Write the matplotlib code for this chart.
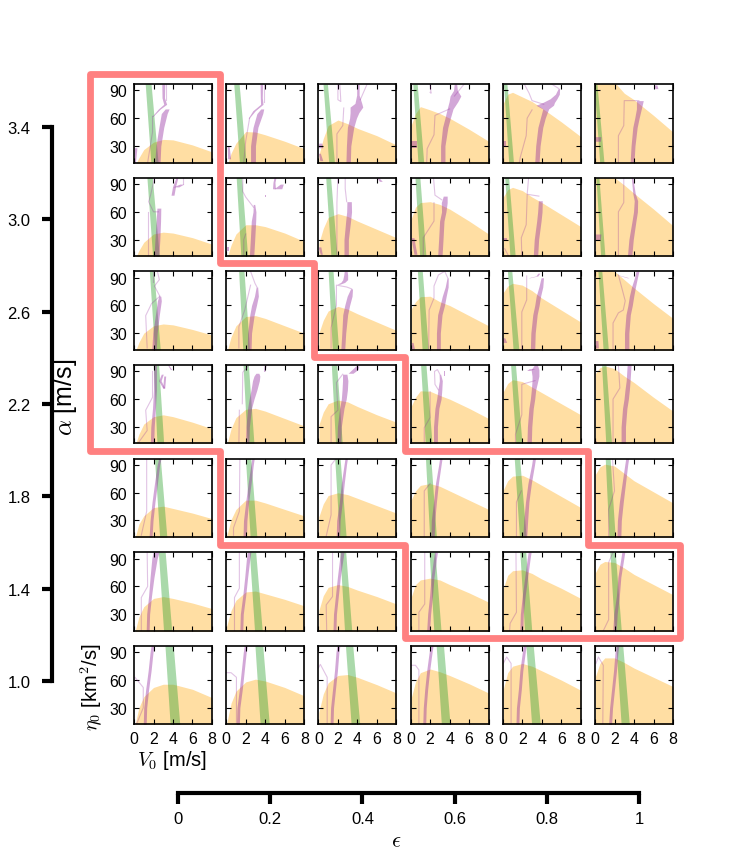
"""Grid of V0 / eta0 parameter panels, one per (alpha, epsilon) pair."""
import matplotlib

matplotlib.use("Agg")
import matplotlib.pyplot as plt

alpha_ticks = [1.0, 1.4, 1.8, 2.2, 2.6, 3.0, 3.4]
epsilon_ticks = [0, 0.2, 0.4, 0.6, 0.8, 1]
epsilon_labels = ["0", "0.2", "0.4", "0.6", "0.8", "1"]
v0_ticks = [0, 2, 4, 6, 8]
eta_ticks = [30, 60, 90]

# orange region: upper edge (eta0) at these V0 values, row 0 = alpha 3.4
orange_v = [0.05, 0.5, 1, 2, 3, 4, 6, 8]
orange_eta = [
    [[8, 17, 26, 34, 37, 36.5, 31, 23.5], [8, 22, 33, 45.5, 45, 42, 35, 27], [20, 38, 52, 58, 54, 49, 41, 31],
     [52, 65, 72.5, 69, 65, 60, 48, 35], [76, 86, 88, 83, 78, 71, 56, 40], [99, 99, 99, 99, 87, 80, 63, 45]],
    [[8, 18, 27, 36, 38, 37, 32, 25], [9, 24, 36, 46, 46, 44, 37, 28], [26, 42, 54, 58, 55, 50, 41, 32],
     [52, 65, 70, 71, 68, 63, 50, 36], [76, 84, 86.5, 83, 76, 70, 57, 44], [99, 99, 99, 97, 89, 80, 63, 45]],
    [[8, 20, 30, 38, 40, 39, 34, 28], [9, 26, 38, 48, 49, 46, 38, 30], [30, 44, 54, 59, 56, 51, 42, 33],
     [56, 64, 69.5, 70, 64, 60, 49, 38], [74, 81, 84, 82, 76, 68, 55, 42], [99, 99, 99, 97, 88, 79, 62, 46]],
    [[8, 22, 33, 41, 43, 41, 35, 28], [10, 28, 40, 49, 50, 47, 39, 31], [32, 46, 55, 59, 57, 52, 43, 35],
     [52, 62, 69, 68.5, 64, 60, 50, 39], [68, 77, 81, 79, 73, 67, 55, 43], [88, 94, 96, 93, 85, 78, 62, 47]],
    [[9, 26, 35, 44, 45.5, 43, 38, 32], [13, 31, 42, 52, 52, 49, 42, 35], [34, 48, 57, 60, 58, 54, 46, 38],
     [52, 62, 68, 70, 67, 62, 52, 42], [63, 73, 78, 79, 74, 68, 56, 44], [80, 88, 91, 89, 81, 73, 61, 49]],
    [[9, 27, 38, 47, 49, 47, 42, 36], [17, 34, 45, 54, 55, 52, 46, 39], [34, 50, 59, 62, 60, 56, 49, 41],
     [48, 62, 67, 69, 67, 62, 53, 43], [58, 72, 77, 78, 74, 68, 58, 47], [75, 84, 87, 86, 80, 73, 62, 51]],
    [[9, 30, 42, 52, 55.5, 55.5, 50, 41], [13, 35, 48, 58, 61, 59, 52, 43], [25, 45, 57, 65, 66, 63, 55, 46],
     [40, 58, 68, 72, 69, 65, 56, 46], [50, 68, 75, 78, 75, 70, 60, 49], [64, 78, 84, 84, 79, 73, 63, 53]],
]

# green band: V0 at the top and bottom of a panel, and its width
green_top = [
    [1.45, 1.05, 0.7, 0.45, 0.25, 0.05],
    [1.6, 1.3, 1.0, 0.7, 0.4, 0.25],
    [1.8, 1.55, 1.25, 0.95, 0.7, 0.5],
    [2.25, 2.0, 1.6, 1.3, 1.05, 0.9],
    [2.4, 2.25, 1.95, 1.8, 1.45, 1.3],
    [2.85, 2.7, 2.5, 2.2, 2.05, 1.8],
    [3.6, 3.35, 3.15, 3.0, 2.75, 2.5],
]
green_bottom = [
    [2.1, 1.7, 1.35, 1.05, 0.85, 0.7],
    [2.25, 1.85, 1.6, 1.25, 1.0, 0.8],
    [2.4, 2.05, 1.75, 1.5, 1.35, 1.1],
    [2.7, 2.5, 2.1, 1.85, 1.65, 1.4],
    [3.0, 2.8, 2.5, 2.3, 2.05, 1.75],
    [3.45, 3.3, 3.05, 2.75, 2.6, 2.35],
    [4.2, 3.95, 3.8, 3.6, 3.4, 3.1],
]
green_width = [
    [0.6, 0.55, 0.45, 0.45, 0.35, 0.3],
    [0.55, 0.55, 0.5, 0.5, 0.4, 0.3],
    [0.45, 0.55, 0.5, 0.5, 0.45, 0.4],
    [0.55, 0.55, 0.55, 0.55, 0.5, 0.45],
    [0.6, 0.55, 0.55, 0.55, 0.55, 0.5],
    [0.7, 0.65, 0.6, 0.6, 0.6, 0.55],
    [0.85, 0.8, 0.75, 0.75, 0.75, 0.7],
]
green_flare = 0.14  # band is a little wider at the bottom

# purple strands: each point is (eta0, V0, width)
purple_strands = {
    (0, 0): [[(12, 2.4, .55), (30, 2.5, .5), (50, 2.8, .5), (65, 3.1, .6), (70, 3.4, .4)],
             [(97, 3.0, .3), (82, 3.0, .25), (75, 3.2, .3), (70, 2.6, .2), (62, 1.9, .1)],
             [(12, .1, .1), (28, .15, .3)]],
    (0, 1): [[(12, 2.75, .5), (30, 2.75, .5), (50, 3.0, .5), (65, 3.45, .6), (70, 3.7, .3)],
             [(97, 3.6, .25), (82, 3.6, .2), (75, 3.65, .25), (68, 2.85, .25), (60, 2.3, .1)],
             [(16, .3, .3), (30, .2, .2)]],
    (0, 2): [[(12, 3.05, .45), (30, 3.1, .45), (50, 3.3, .65), (60, 3.55, .7), (66, 3.7, .9), (72, 3.9, 1.3),
              (76, 4.1, .7), (85, 4.05, .25), (97, 4.05, .25)],
             [(14, .3, .3), (22, .1, .2)], [(28, .2, .5), (33, .2, .3)]],
    (0, 3): [[(12, 3.3, .45), (30, 3.3, .45), (50, 3.55, .55), (60, 3.8, .55), (70, 4.05, .6), (78, 4.4, .9),
              (84, 4.6, 1.1), (90, 4.6, .4), (97, 4.6, .25)],
             [(28, .35, .6), (35, .35, .6)]],
    (0, 4): [[(12, 3.5, .45), (30, 3.6, .45), (50, 3.85, .5), (60, 4.1, .5), (70, 4.4, .6), (74, 4.3, 1.8),
              (77, 4.7, 1.2), (81, 5.2, .7), (86, 5.6, .4), (92, 5.75, .15)],
             [(30, .1, .5), (35, .1, .5)]],
    (0, 5): [[(12, 3.8, .4), (30, 3.9, .4), (50, 4.1, .45), (60, 4.3, .45), (70, 4.5, .5), (79, 4.6, .7)],
             [(92, 6.3, .3), (96, 6.2, .3)], [(35, .3, .5), (40, .3, .6)]],
    (1, 0): [[(12, 2.3, .5), (30, 2.4, .5), (50, 2.5, .45), (64, 2.55, .4)],
             [(78, 3.95, .3), (87, 4.1, .3), (97, 4.4, .2)], [(87, 4.3, .6), (90, 4.9, .4)]],
    (1, 1): [[(12, 2.6, .45), (30, 2.7, .45), (50, 2.8, .45), (60, 2.9, .3), (68, 2.85, .15)],
             [(85, 4.9, .3), (92, 4.9, .2), (97, 5.0, .2)], [(85, 5.3, .8), (90, 5.7, .3)],
             [(76, 4.0, .1), (78, 4.0, .1)], [(18, .2, .2), (22, .2, .2)]],
    (1, 2): [[(12, 2.85, .45), (30, 2.85, .45), (50, 3.05, .5), (60, 3.15, .5), (71, 3.15, .45)],
             [(97, 6.1, .2), (93, 6.4, .3)], [(14, .3, .2), (22, .1, .3)]],
    (1, 3): [[(12, 3.0, .45), (30, 3.1, .45), (50, 3.2, .45), (60, 3.4, .45), (70, 3.45, .6), (77, 3.55, .4)],
             [(14, .5, .3), (25, .3, .3), (32, .2, .3)]],
    (1, 4): [[(12, 3.35, .45), (30, 3.45, .45), (50, 3.7, .45), (60, 3.8, .45), (72, 3.85, .4)],
             [(29, .2, .5), (32, .2, .5)]],
    (1, 5): [[(12, 3.55, .45), (30, 3.7, .45), (50, 4.0, .4), (60, 4.15, .4), (72, 4.2, .35), (80, 4.0, .25),
              (97, 3.8, .15)],
             [(30, .3, .5), (36, .3, .6)]],
    (2, 0): [[(12, 2.05, .45), (30, 2.15, .45), (50, 2.4, .4), (65, 2.6, .4), (70, 2.65, .2)]],
    (2, 1): [[(12, 2.35, .4), (30, 2.4, .4), (50, 2.65, .45), (60, 2.85, .5), (70, 3.1, .4), (80, 3.15, .15)]],
    (2, 2): [[(12, 2.5, .4), (30, 2.6, .4), (50, 2.75, .5), (60, 2.95, .5), (70, 3.2, .5), (78, 3.4, .2)],
             [(83, 2.05, .3), (85, 2.5, .4), (88, 2.75, .5), (93, 2.8, .4), (97, 2.8, .3)]],
    (2, 3): [[(12, 2.85, .4), (30, 2.85, .4), (50, 3.0, .45), (60, 3.25, .45), (70, 3.45, .4), (80, 3.7, .3),
              (90, 3.8, .12)],
             [(13, .25, .3), (20, .15, .2)]],
    (2, 4): [[(12, 3.05, .45), (30, 3.1, .45), (50, 3.3, .45), (60, 3.5, .45), (70, 3.65, .45), (80, 3.9, .4),
              (90, 4.05, .25)],
             [(90, 2.7, .15), (92, 3.5, .2), (95, 3.7, .2)], [(20, .2, .4), (25, .1, .2)]],
    (2, 5): [[(12, 3.25, .45), (30, 3.25, .45), (50, 3.4, .45), (60, 3.6, .45), (70, 3.75, .45), (80, 3.95, .4),
              (90, 4.2, .3), (97, 4.35, .3)],
             [(93, 2.4, .1), (90, 3.4, .2)], [(14, .2, .3), (22, .15, .3)]],
    (3, 0): [[(12, 1.85, .35), (30, 1.9, .35), (50, 2.05, .3), (70, 2.15, .3), (90, 2.15, .3), (97, 2.15, .3)],
             [(72, 3.05, .2), (80, 2.65, .25), (87, 2.9, .2)], [(72, 3.05, .2), (85, 3.15, .2)],
             [(92, 3.8, .15), (97, 3.5, .1)]],
    (3, 1): [[(12, 2.15, .35), (30, 2.2, .35), (50, 2.4, .4), (60, 2.6, .5), (70, 2.85, .6), (80, 3.05, .7),
              (85, 3.15, .6), (88, 3.2, .3)],
             [(90, 3.9, .15), (97, 4.0, .2)]],
    (3, 2): [[(12, 2.1, .4), (30, 2.15, .4), (50, 2.4, .45), (60, 2.6, .5), (70, 2.7, .55), (80, 2.75, .55),
              (87, 2.7, .45)],
             [(88, 3.3, .5), (92, 3.75, .6), (96, 4.0, .3)]],
    (3, 3): [[(12, 2.55, .4), (30, 2.55, .4), (50, 2.7, .4), (60, 2.9, .45), (70, 3.0, .4), (80, 3.1, .3),
              (87, 3.0, .15)],
             [(85, 3.5, .15), (90, 3.5, .15)]],
    (3, 4): [[(12, 2.7, .45), (30, 2.75, .45), (50, 2.9, .45), (60, 3.05, .45), (70, 3.15, .45), (80, 3.3, .6),
              (85, 3.35, .7), (92, 3.3, .8), (97, 3.4, .3)],
             [(91, 2.6, .3), (93, 3.0, .6)]],
    (3, 5): [[(12, 2.9, .45), (30, 2.9, .45), (50, 3.05, .45), (60, 3.2, .45), (70, 3.3, .45), (80, 3.4, .4),
              (97, 3.5, .4)],
             [(12, .05, .2), (15, .05, .15)]],
    (4, 0): [[(12, 1.7, .3), (30, 1.8, .3), (50, 2.0, .3), (70, 2.25, .3), (90, 2.5, .25), (97, 2.65, .25)]],
    (4, 1): [[(12, 1.9, .35), (30, 1.95, .35), (50, 2.15, .3), (70, 2.4, .3), (90, 2.65, .25), (97, 2.75, .25)]],
    (4, 2): [[(12, 2.0, .35), (30, 2.05, .35), (50, 2.3, .3), (70, 2.5, .3), (90, 2.75, .25), (97, 2.85, .25)]],
    (4, 3): [[(12, 2.25, .35), (30, 2.3, .35), (50, 2.5, .3), (70, 2.7, .3), (90, 3.0, .25), (97, 3.1, .25)]],
    (4, 4): [[(12, 2.25, .4), (30, 2.35, .4), (50, 2.5, .35), (70, 2.75, .35), (90, 3.1, .3), (97, 3.2, .3)]],
    (4, 5): [[(12, 2.45, .4), (30, 2.5, .4), (50, 2.7, .4), (70, 2.95, .35), (90, 3.2, .3), (97, 3.3, .3)]],
    (5, 0): [[(12, 1.4, .3), (30, 1.45, .3), (50, 1.65, .3), (70, 1.85, .4), (90, 2.1, .55), (97, 2.25, .6)]],
    (5, 1): [[(12, 1.55, .3), (30, 1.6, .3), (50, 1.85, .3), (70, 2.05, .3), (90, 2.25, .35), (97, 2.35, .35)]],
    (5, 2): [[(12, 1.65, .3), (30, 1.7, .3), (50, 1.9, .3), (70, 2.1, .3), (90, 2.35, .35), (97, 2.45, .35)]],
    (5, 3): [[(12, 1.8, .3), (30, 1.9, .3), (50, 2.1, .3), (70, 2.25, .3), (90, 2.5, .3), (97, 2.6, .3)]],
    (5, 4): [[(12, 1.9, .3), (30, 1.95, .3), (50, 2.15, .3), (70, 2.4, .3), (90, 2.65, .3), (97, 2.75, .3)]],
    (5, 5): [[(12, 2.0, .35), (30, 2.1, .35), (50, 2.35, .3), (70, 2.5, .3), (90, 2.8, .3), (97, 2.9, .3)]],
    (6, 0): [[(12, 1.1, .3), (30, 1.15, .3), (50, 1.35, .3), (70, 1.6, .3), (90, 1.8, .3), (97, 1.9, .3)]],
    (6, 1): [[(12, 1.2, .3), (30, 1.25, .3), (50, 1.5, .3), (70, 1.7, .3), (90, 1.9, .3), (97, 2.0, .3)]],
    (6, 2): [[(12, 1.35, .3), (30, 1.4, .3), (50, 1.6, .3), (70, 1.8, .3), (90, 1.95, .3), (97, 2.05, .3)]],
    (6, 3): [[(12, 1.4, .3), (30, 1.45, .3), (50, 1.6, .3), (70, 1.8, .3), (90, 2.05, .3), (97, 2.15, .3)]],
    (6, 4): [[(12, 1.5, .3), (30, 1.55, .3), (50, 1.75, .3), (70, 1.9, .3), (90, 2.15, .3), (97, 2.25, .3)]],
    (6, 5): [[(12, 1.55, .3), (30, 1.65, .3), (50, 1.85, .3), (70, 2.05, .3), (90, 2.2, .3), (97, 2.3, .3)]],
}

# faint purple contours: each point is (V0, eta0)
purple_thin = {
    (0, 0): [[(1.9, 62), (1.9, 45), (1.4, 12)], [(3.3, 97), (3.3, 80)]],
    (0, 1): [[(2.4, 60), (2.0, 35), (1.8, 12)], [(3.9, 97), (3.9, 78)]],
    (0, 2): [[(2.6, 71), (2.5, 52), (1.9, 43), (1.9, 12)], [(2.0, 97), (2.0, 80), (2.3, 78), (2.2, 97)],
             [(4.3, 80), (5.0, 97)]],
    (0, 3): [[(4.0, 70), (2.5, 63), (2.4, 42), (1.7, 27), (1.65, 12)], [(5.5, 97), (4.5, 84)],
             [(2.0, 97), (2.1, 87), (2.0, 88)]],
    (0, 4): [[(2.2, 97), (2.7, 87), (3.0, 79), (4.2, 75)], [(3.0, 69), (2.5, 60), (2.4, 41), (1.8, 18), (1.7, 12)],
             [(5.75, 92), (5.0, 97)]],
    (0, 5): [[(4.5, 79), (3.0, 79), (2.95, 52), (2.4, 41), (2.4, 12)]],
    (1, 0): [[(2.5, 60), (2.0, 60), (1.5, 71), (1.7, 78), (2.1, 97)], [(1.45, 60), (1.45, 12)], [(5.0, 90), (5.0, 97)]],
    (1, 1): [[(2.8, 65), (2.0, 76), (1.7, 82), (1.7, 97)], [(1.8, 12), (1.8, 30), (2.0, 36)]],
    (1, 2): [[(2.9, 71), (2.75, 85), (2.75, 97)], [(2.0, 97), (1.9, 70), (1.9, 12)]],
    (1, 3): [[(2.35, 97), (2.5, 78), (3.2, 73)], [(2.4, 70), (2.4, 50), (1.3, 32), (1.3, 12)]],
    (1, 4): [[(2.65, 97), (2.5, 79), (3.7, 77)], [(2.5, 78), (2.4, 46), (1.9, 32), (1.95, 12)], [(.2, 20), (.6, 12)]],
    (1, 5): [[(2.95, 97), (2.95, 70), (2.4, 60), (2.4, 12)]],
    (2, 0): [[(2.65, 70), (2.1, 81), (2.6, 88), (2.4, 97)], [(1.9, 97), (1.9, 85)], [(2.65, 70), (1.8, 62), (1.2, 49), (1.35, 14)]],
    (2, 1): [[(3.15, 80), (2.95, 84), (2.5, 97)], [(2.5, 82), (1.9, 55), (1.3, 37), (1.3, 14)]],
    (2, 2): [[(3.4, 78), (2.9, 80), (1.85, 82), (1.85, 60), (1.3, 36), (1.3, 14)]],
    (2, 3): [[(3.8, 90), (3.5, 97), (2.85, 93), (2.4, 81), (2.4, 68), (1.9, 55), (1.85, 12)]],
    (2, 4): [[(2.45, 92), (2.45, 66), (1.95, 53), (1.95, 12)]],
    (2, 5): [[(2.4, 93), (3.1, 65), (2.9, 55), (2.4, 52), (1.85, 41), (1.85, 12)]],
    (3, 0): [[(1.9, 90), (1.9, 62), (1.2, 48), (1.35, 26), (0.4, 12)]],
    (3, 1): [[(2.35, 97), (1.7, 89), (1.65, 55)], [(1.35, 48), (1.3, 12)]],
    (3, 2): [[(2.5, 87), (1.85, 78), (2.0, 48), (1.3, 41), (1.3, 12)]],
    (3, 3): [[(3.0, 87), (2.75, 92), (2.45, 90), (2.5, 76), (2.85, 70)], [(2.0, 68), (2.0, 40), (1.4, 29), (1.4, 12)]],
    (3, 4): [[(3.3, 80), (1.95, 76), (1.95, 43), (1.3, 22), (1.3, 12)]],
    (3, 5): [[(2.4, 97), (2.55, 72), (1.85, 60), (1.85, 12)]],
    (4, 0): [[(1.3, 97), (1.3, 40), (.75, 14)]],
    (4, 1): [[(1.4, 97), (1.35, 40), (.75, 22), (.75, 14)]],
    (4, 2): [[(1.8, 97), (1.3, 90), (1.3, 36), (.8, 13)]],
    (4, 3): [[(2.0, 70), (1.4, 62), (1.4, 12)]],
    (4, 4): [[(1.9, 62), (1.4, 50), (1.4, 12)]],
    (4, 5): [[(1.8, 97), (1.85, 87), (2.0, 62), (1.4, 42), (1.4, 12)]],
    (5, 0): [[(1.35, 97), (1.4, 60), (.75, 48), (.75, 12)]],
    (5, 1): [[(1.35, 97), (1.35, 58), (.85, 48), (.85, 12)]],
    (5, 2): [[(1.45, 97), (1.45, 49), (.8, 40), (.85, 12)]],
    (5, 3): [[(1.45, 97), (1.45, 41), (.85, 32), (.85, 12)]],
    (5, 4): [[(1.35, 97), (1.4, 32), (.75, 20), (.7, 12)]],
    (5, 5): [[(1.85, 97), (1.4, 86), (1.4, 24), (.85, 12)]],
    (6, 0): [[(.1, 63), (.95, 52), (.95, 30), (.25, 12)]],
    (6, 1): [[(0, 68), (.5, 68), (1.05, 63), (1.05, 12)]],
    (6, 2): [[(0, 73), (.2, 77), (.9, 63), (.9, 12)]],
    (6, 3): [[(0, 76), (.5, 76), (.85, 71), (.85, 12)]],
    (6, 4): [[(.05, 78), (.4, 85), (.85, 78), (.85, 12)]],
    (6, 5): [[(.1, 78), (.35, 85), (.85, 76), (.8, 12)]],
}

# outline of the highlighted cells, in picture pixels
outline_x = [90, 220, 220, 314, 314, 405, 405, 588, 588, 680, 680, 405, 405, 220, 220, 90]
outline_y = [75, 75, 264, 264, 358, 358, 452, 452, 546, 546, 639, 639, 546, 546, 452, 452]

W, H = 747, 854
plt.rcParams["font.family"] = ["Liberation Sans", "DejaVu Sans"]
plt.rcParams["mathtext.fontset"] = "cm"

fig = plt.figure(figsize=(W / 100, H / 100), dpi=100)


def px_axes(left, top, width, height):
    return fig.add_axes([left / W, 1 - (top + height) / H, width / W, height / H])


for r in range(7):
    for c in range(6):
        ax = px_axes(134 + 92.2 * c, 85 + 93.65 * r, 78, 78.5)
        ax.fill_between(orange_v, orange_eta[r][c], 0, color="#ffa500", alpha=0.36, lw=0)
        g_w = green_width[r][c]
        ax.fill_betweenx([97, 12],
                         [green_top[r][c] - g_w / 2, green_bottom[r][c] - g_w / 2 - green_flare / 2],
                         [green_top[r][c] + g_w / 2, green_bottom[r][c] + g_w / 2 + green_flare / 2],
                         color="#2ca02c", alpha=0.4, lw=0)
        for strand in purple_strands.get((r, c), []):
            eta = [p[0] for p in strand]
            lo = [p[1] - p[2] / 2 for p in strand]
            hi = [p[1] + p[2] / 2 for p in strand]
            ax.fill_betweenx(eta, lo, hi, color="#90239c", alpha=0.4, lw=0)
        for line in purple_thin.get((r, c), []):
            ax.plot([p[0] for p in line], [p[1] for p in line], color="#90239c", alpha=0.27, lw=0.8)
        ax.set_xlim(0, 8)
        ax.set_ylim(12, 97)
        ax.set_xticks(v0_ticks)
        ax.set_yticks(eta_ticks)
        ax.tick_params(direction="in", top=True, right=True, length=3.6, width=0.8, pad=5,
                       labelsize=11.4, labelleft=c == 0, labelbottom=r == 6)
        for spine in ax.spines.values():
            spine.set_linewidth(1.2)

# big alpha and epsilon axes
ax_alpha = px_axes(52, 128, 1, 554)
ax_alpha.set_ylim(1.0, 3.4)
ax_alpha.set_xticks([])
ax_alpha.set_yticks(alpha_ticks)
ax_alpha.set_yticklabels([f"{a:.1f}" for a in alpha_ticks])
ax_alpha.tick_params(length=7.5, width=3, pad=8, labelsize=12)
ax_alpha.patch.set_visible(False)

ax_eps = px_axes(178, 794, 461, 1)
ax_eps.set_xlim(0, 1)
ax_eps.set_yticks([])
ax_eps.set_xticks(epsilon_ticks)
ax_eps.set_xticklabels(epsilon_labels)
ax_eps.xaxis.tick_bottom()
ax_eps.tick_params(length=7.5, width=3, pad=5, labelsize=12)
ax_eps.patch.set_visible(False)

for a, keep in [(ax_alpha, "left"), (ax_eps, "top")]:
    for name, spine in a.spines.items():
        spine.set_visible(name == keep)
        spine.set_linewidth(3)

# overlay in picture pixels for the outline and axis titles
over = fig.add_axes([0, 0, 1, 1])
over.set_xlim(0, W)
over.set_ylim(H, 0)
over.axis("off")
over.patch.set_visible(False)
over.fill(outline_x, outline_y, fill=False, edgecolor="#ff8080", lw=4.9, joinstyle="round")
over.text(65, 397, r"$\alpha$ [m/s]", rotation=90, fontsize=18, ha="center", va="center")
over.text(92, 687, r"$\eta_0$ [km$^2$/s]", rotation=90, fontsize=14.5, ha="center", va="center")
over.text(172, 761, r"$V_0$ [m/s]", fontsize=14.5, ha="center", va="center")
over.text(396, 842, r"$\epsilon$", fontsize=16, ha="center", va="center")

fig.savefig("out.png", dpi=100)
